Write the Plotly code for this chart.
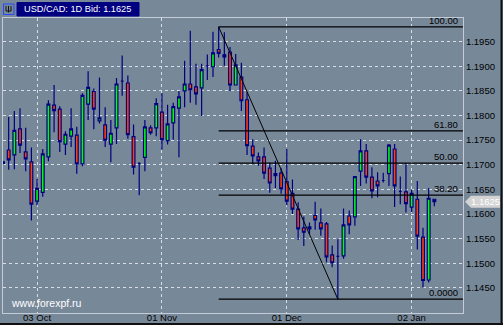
import plotly.graph_objects as go

# ---- data ----
opens = [1.1703, 1.1730, 1.1720, 1.1773, 1.1726, 1.1706, 1.1626, 1.1644, 1.1716, 1.1821,
         1.1813, 1.1742, 1.1758, 1.1760, 1.1702, 1.1823, 1.1849, 1.1789, 1.1781, 1.1742,
         1.1775, 1.1870, 1.1866, 1.1757, 1.1703, 1.1715, 1.1775, 1.1775, 1.1807, 1.1749,
         1.1785, 1.1815, 1.1850, 1.1864, 1.1858, 1.1856, 1.1901, 1.1899, 1.1934, 1.1919,
         1.1929, 1.1862, 1.1878, 1.1832, 1.1738, 1.1716, 1.1716, 1.1693, 1.1678, 1.1683,
         1.1666, 1.1642, 1.1610, 1.1572, 1.1570, 1.1597, 1.1582, 1.1580, 1.1517, 1.1514,
         1.1515, 1.1596, 1.1594, 1.1687, 1.1728, 1.1675, 1.1667, 1.1668, 1.1682, 1.1732,
         1.1646, 1.1645, 1.1614, 1.1630, 1.1553, 1.1466, 1.1630]
highs = [1.1708, 1.1797, 1.1809, 1.1815, 1.1775, 1.1735, 1.1671, 1.1732, 1.1831, 1.1862,
         1.1819, 1.1768, 1.1815, 1.1777, 1.1845, 1.1890, 1.1855, 1.1877, 1.1817, 1.1791,
         1.1876, 1.1922, 1.1881, 1.1782, 1.1705, 1.1791, 1.1780, 1.1835, 1.1845, 1.1822,
         1.1826, 1.1850, 1.1911, 1.1972, 1.1905, 1.1905, 1.1924, 1.1970, 1.1980, 1.1969,
         1.1939, 1.1925, 1.1907, 1.1847, 1.1752, 1.1725, 1.1735, 1.1704, 1.1708, 1.1693,
         1.1732, 1.1670, 1.1624, 1.1595, 1.1583, 1.1625, 1.1611, 1.1584, 1.1536, 1.1549,
         1.1611, 1.1607, 1.1676, 1.1752, 1.1742, 1.1695, 1.1685, 1.1684, 1.1742, 1.1742,
         1.1676, 1.1703, 1.1650, 1.1667, 1.1572, 1.1653, 1.1630]
lows = [1.1700, 1.1690, 1.1691, 1.1724, 1.1687, 1.1587, 1.1618, 1.1635, 1.1707, 1.1766,
        1.1726, 1.1720, 1.1736, 1.1682, 1.1697, 1.1791, 1.1772, 1.1784, 1.1736, 1.1705,
        1.1742, 1.1840, 1.1753, 1.1680, 1.1638, 1.1687, 1.1761, 1.1758, 1.1731, 1.1741,
        1.1751, 1.1715, 1.1817, 1.1826, 1.1822, 1.1799, 1.1872, 1.1878, 1.1918, 1.1901,
        1.1850, 1.1861, 1.1809, 1.1720, 1.1702, 1.1698, 1.1671, 1.1643, 1.1653, 1.1641,
        1.1618, 1.1600, 1.1547, 1.1535, 1.1559, 1.1568, 1.1556, 1.1502, 1.1492, 1.1427,
        1.1509, 1.1559, 1.1576, 1.1657, 1.1662, 1.1632, 1.1634, 1.1664, 1.1657, 1.1614,
        1.1620, 1.1603, 1.1604, 1.1528, 1.1451, 1.1461, 1.1616]
closes = [1.1706, 1.1710, 1.1770, 1.1740, 1.1712, 1.1620, 1.1652, 1.1722, 1.1823, 1.1810,
          1.1747, 1.1762, 1.1773, 1.1702, 1.1841, 1.1857, 1.1813, 1.1795, 1.1750, 1.1764,
          1.1864, 1.1870, 1.1761, 1.1695, 1.1703, 1.1777, 1.1765, 1.1824, 1.1751, 1.1783,
          1.1818, 1.1838, 1.1864, 1.1852, 1.1844, 1.1893, 1.1901, 1.1927, 1.1926, 1.1923,
          1.1862, 1.1903, 1.1830, 1.1739, 1.1718, 1.1708, 1.1683, 1.1663, 1.1682, 1.1651,
          1.1626, 1.1610, 1.1570, 1.1563, 1.1574, 1.1588, 1.1570, 1.1513, 1.1501, 1.1514,
          1.1578, 1.1578, 1.1676, 1.1728, 1.1675, 1.1647, 1.1657, 1.1668, 1.1740, 1.1657,
          1.1646, 1.1621, 1.1642, 1.1555, 1.1465, 1.1632, 1.1625]
bar_index = list(range(len(opens)))

date_tick_index = [6, 28, 50, 72]
date_tick_labels = ["03 Oct", "01 Nov", "01 Dec", "02 Jan"]
price_ticks = [1.145, 1.150, 1.155, 1.160, 1.165, 1.170, 1.175, 1.180, 1.185, 1.190, 1.195]

fib_start_index = 38
fib_end_index = 59
fib_high = 1.1980
fib_low = 1.1427
fib_ratios = [0.0, 38.2, 50.0, 61.8, 100.0]
fib_labels = ["0.0000", "38.20", "50.00", "61.80", "100.00"]

last_price = 1.1625
title_text = "USD/CAD: 1D Bid: 1.1625"
watermark = "www.forexpf.ru"

BG = "#778899"
FONT = "Liberation Sans, Arial, sans-serif"

fig = go.Figure()
fig.add_trace(go.Candlestick(
    x=bar_index, open=opens, high=highs, low=lows, close=closes,
    increasing=dict(fillcolor="#00ff00", line=dict(color="#000080", width=1.2)),
    decreasing=dict(fillcolor="#ff4000", line=dict(color="#000080", width=1.2)),
    whiskerwidth=0, showlegend=False, hoverinfo="skip",
))

XR = [0.0, 81.05]
shapes = []
annotations = []
# fib lines
for r, lab in zip(fib_ratios, fib_labels):
    lv = fib_low + (fib_high - fib_low) * r / 100.0
    shapes.append(dict(type="line", xref="x", yref="y", x0=fib_start_index, x1=XR[1],
                       y0=lv, y1=lv, line=dict(color="black", width=1.2)))
    annotations.append(dict(x=0.993, xref="paper", y=lv, yref="y", text=lab,
                            xanchor="right", yanchor="bottom", yshift=-1, showarrow=False,
                            font=dict(family=FONT, size=9.5, color="black")))
# trend diagonal
shapes.append(dict(type="line", xref="x", yref="y", x0=fib_start_index, y0=fib_high,
                   x1=fib_end_index, y1=fib_low, line=dict(color="black", width=1)))

# price tag
shapes.append(dict(type="path", xref="paper", yref="y", xsizemode="pixel", ysizemode="pixel",
                   xanchor=1, yanchor=last_price,
                   path="M 2,0 L 8,-6 L 37,-6 L 37,6 L 8,6 Z",
                   fillcolor="#d3d3d3", line=dict(width=0)))
annotations.append(dict(x=1, xref="paper", xshift=22, y=last_price, yref="y", text="1.1625",
                        showarrow=False, xanchor="center", yanchor="middle",
                        font=dict(family=FONT, size=9.5, color="white")))

# title box + icon (pixel positions via paper coords)
W, H = 503, 325
L, R, T, B = 3, 40, 18, 12
pw, ph = W - L - R, H - T - B
def px(x):
    return (x - L) / pw
def py(y):
    return 1 - (y - T) / ph
shapes.append(dict(type="rect", xref="paper", yref="paper", x0=px(17), x1=px(139), y0=py(16), y1=py(2.5),
                   fillcolor="#000080", line=dict(color="#000080", width=1)))
shapes.append(dict(type="rect", xref="paper", yref="paper", x0=px(3.5), x1=px(14), y0=py(14.5), y1=py(4),
                   fillcolor="rgba(0,0,0,0)", line=dict(color="#2848ff", width=1)))
shapes.append(dict(type="path", xref="paper", yref="paper",
                   path=f"M {px(6)},{py(6)} L {px(6)},{py(11)} L {px(11)},{py(11)} L {px(11)},{py(6)} M {px(8.5)},{py(6)} L {px(8.5)},{py(12.5)}",
                   line=dict(color="#101010", width=1)))
annotations.append(dict(x=px(22), xref="paper", y=py(9.3), yref="paper", text=title_text,
                        xanchor="left", yanchor="middle", showarrow=False,
                        font=dict(family=FONT, size=9.2, color="white")))
annotations.append(dict(x=px(9), xref="paper", y=py(302.5), yref="paper", text=watermark,
                        xanchor="left", yanchor="middle", showarrow=False,
                        font=dict(family=FONT, size=10.5, color="white")))
# outer window border
shapes.append(dict(type="line", xref="paper", yref="paper", x0=px(501.5), x1=px(501.5), y0=py(0), y1=py(325),
                   line=dict(color="#101010", width=2)))
shapes.append(dict(type="line", xref="paper", yref="paper", x0=px(0), x1=px(503), y0=py(324), y1=py(324),
                   line=dict(color="#101010", width=2)))

fig.update_layout(
    width=W, height=H, autosize=False,
    margin=dict(l=L, r=R, t=T, b=B, autoexpand=False),
    paper_bgcolor=BG, plot_bgcolor=BG,
    shapes=shapes, annotations=annotations,
    font=dict(family=FONT, size=9.5, color="black"),
    xaxis=dict(range=XR, rangeslider=dict(visible=False), tickmode="array",
               tickvals=date_tick_index, ticktext=date_tick_labels,
               showgrid=True, gridcolor="#d8dee8", griddash="dot", gridwidth=1,
               showline=True, linecolor="#c4ccd8", linewidth=1, mirror=True,
               ticks="", zeroline=False, tickfont=dict(size=9.5), ticklabelstandoff=-4,
               fixedrange=True),
    yaxis=dict(range=[1.1399, 1.1998], side="right", tickmode="array",
               tickvals=price_ticks, ticktext=[f"{v:.4f}" for v in price_ticks],
               showgrid=True, gridcolor="#d8dee8", griddash="dot", gridwidth=1,
               showline=True, linecolor="#c4ccd8", linewidth=1, mirror=True,
               ticks="", zeroline=False, tickfont=dict(size=9.5), fixedrange=True),
)
fig.write_html("out.html")
